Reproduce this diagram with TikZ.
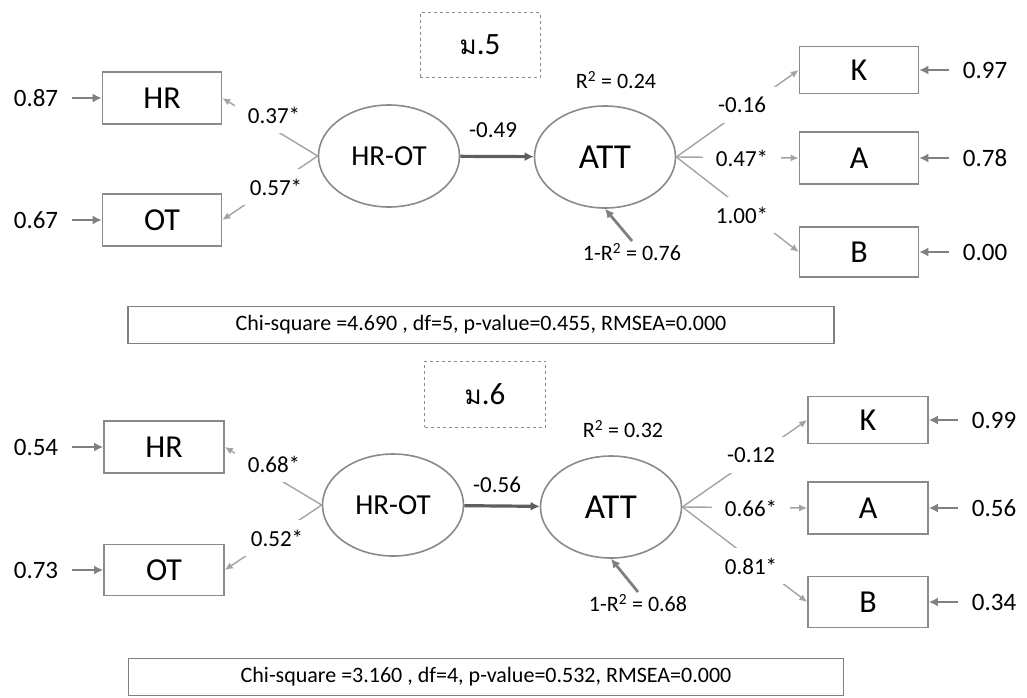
\documentclass[tikz,border=0pt]{standalone}
\usepackage{fontspec}
\setmainfont{Carlito}
\newfontfamily\thaifont[Script=Thai]{Loma}
\usetikzlibrary{arrows.meta,shapes.geometric}

\definecolor{edgegray}{HTML}{8A8A8A}
\definecolor{errgray}{HTML}{808080}
\definecolor{pathgray}{HTML}{5E5E5E}
\definecolor{loadgray}{HTML}{A3A3A3}

\newcommand{\fsz}[1]{\fontsize{#1}{#1}\selectfont}

\begin{document}
\begin{tikzpicture}[x=1pt,y=-1pt,
  obs/.style={draw=edgegray,line width=1.6pt,minimum width=119pt,minimum height=52pt,inner sep=0pt,font=\fsz{32}},
  lat/.style={ellipse,draw=edgegray,line width=1.6pt,minimum width=141pt,minimum height=102pt,inner sep=0pt},
  grade/.style={draw=edgegray,dashed,line width=1pt,minimum width=120pt,minimum height=65pt,font=\fsz{31}},
  num/.style={minimum width=72pt,inner sep=2pt,font=\fsz{25}},
  lbl/.style={fill=white,minimum width=78pt,minimum height=36pt,inner sep=0pt,font=\fsz{23}},
  fit/.style={draw=errgray,line width=1.6pt,minimum height=37pt,inner sep=0pt,font=\fsz{22}},
  err/.style={draw=errgray,line width=2.8pt,-{Latex[length=9pt,width=9pt]}},
  path/.style={draw=pathgray,line width=3.2pt,-{Latex[length=9pt,width=9pt]}},
  load/.style={draw=loadgray,line width=1.4pt,-{Latex[length=8pt,width=7pt]}}]
  \useasboundingbox (0,0) rectangle (1027,697);

  % ---- upper model
  \node[grade] (t5) at (480,45) {{\thaifont\fsz{26}ม}.5};
  \node[obs] (hr5) at (162,98) {HR};
  \node[obs] (ot5) at (162,220) {OT};
  \node[num] (ehr5) at (36,98) {0.87};
  \node[num] (eot5) at (36,220) {0.67};
  \node[lat,font=\fsz{29}] (hrot5) at (389,156) {HR-OT};
  \node[lat,font=\fsz{35}] (att5) at (605,157) {ATT};
  \node[obs,minimum height=47pt] (k5) at (859,70) {K};
  \node[obs] (a5) at (859,158) {A};
  \node[obs,minimum height=50pt] (b5) at (859,252) {B};
  \node[num] (ek5) at (985,70) {0.97};
  \node[num] (ea5) at (985,158) {0.78};
  \node[num] (eb5) at (985,252) {0.00};
  \node[num,font=\fsz{22}] (r5) at (616,80) {R\textsuperscript{2} = 0.24};
  \node[num,font=\fsz{22}] (u5) at (632,252) {1-R\textsuperscript{2} = 0.76};

  \draw[err] (ehr5) -- (hr5);
  \draw[err] (eot5) -- (ot5);
  \foreach \v in {k5,a5,b5} \draw[err] (e\v) -- (\v);
  \draw[err] (u5.north) -- (att5.south);
  \draw[path] (hrot5) -- (att5);
  \draw[load] (hrot5.west) -- (hr5.east);
  \draw[load] (hrot5.west) -- (ot5.east);
  \foreach \v in {k5,a5,b5} \draw[load] (att5.east) -- (\v.west);

  \node[lbl] (lhr5) at (274,115) {0.37*};
  \node[lbl] (lot5) at (276,187) {0.57*};
  \node[lbl,fill=none] (b15) at (493,130) {-0.49};
  \node[lbl] (lk5) at (742,105) {-0.16};
  \node[lbl] (la5) at (742,158) {0.47*};
  \node[lbl] (lb5) at (742,215) {1.00*};

  \node[fit,minimum width=706pt] (chi5) at (481,325)
    {Chi-square =4.690 , df=5, p-value=0.455, RMSEA=0.000};

  % ---- lower model
  \node[grade,minimum width=121pt,minimum height=66pt] (t6) at (485,394) {{\thaifont\fsz{26}ม}.6};
  \node[obs,minimum width=120pt] (hr6) at (164,447) {HR};
  \node[obs,minimum width=120pt,minimum height=51pt] (ot6) at (164,570) {OT};
  \node[num] (ehr6) at (36,447) {0.54};
  \node[num] (eot6) at (36,570) {0.73};
  \node[lat,font=\fsz{29}] (hrot6) at (393,505) {HR-OT};
  \node[lat,font=\fsz{35}] (att6) at (611,507) {ATT};
  \node[obs,minimum width=120pt,minimum height=47pt] (k6) at (868,420) {K};
  \node[obs,minimum width=120pt] (a6) at (868,508) {A};
  \node[obs,minimum width=120pt,minimum height=51pt] (b6) at (868,602) {B};
  \node[num] (ek6) at (994,420) {0.99};
  \node[num] (ea6) at (994,508) {0.56};
  \node[num] (eb6) at (994,602) {0.34};
  \node[num,font=\fsz{22}] (r6) at (623,429) {R\textsuperscript{2} = 0.32};
  \node[num,font=\fsz{22}] (u6) at (638,603) {1-R\textsuperscript{2} = 0.68};

  \draw[err] (ehr6) -- (hr6);
  \draw[err] (eot6) -- (ot6);
  \foreach \v in {k6,a6,b6} \draw[err] (e\v) -- (\v);
  \draw[err] (u6.north) -- (att6.south);
  \draw[path] (hrot6) -- (att6);
  \draw[load] (hrot6.west) -- (hr6.east);
  \draw[load] (hrot6.west) -- (ot6.east);
  \foreach \v in {k6,a6,b6} \draw[load] (att6.east) -- (\v.west);

  \node[lbl] (lhr6) at (274,464) {0.68*};
  \node[lbl] (lot6) at (277,538) {0.52*};
  \node[lbl,fill=none] (b16) at (497,485) {-0.56};
  \node[lbl] (lk6) at (751,455) {-0.12};
  \node[lbl] (la6) at (751,508) {0.66*};
  \node[lbl] (lb6) at (751,566) {0.81*};

  \node[fit,minimum width=715pt] (chi6) at (486,677)
    {Chi-square =3.160 , df=4, p-value=0.532, RMSEA=0.000};
\end{tikzpicture}
\end{document}
